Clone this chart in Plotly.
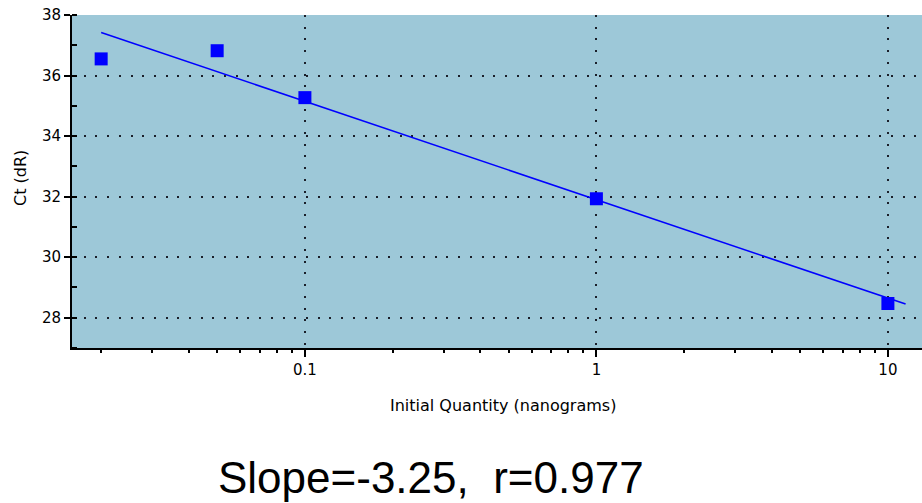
import numpy as np
import plotly.graph_objects as go

# Data
quantity_ng = [0.02, 0.05, 0.1, 1, 10]
ct_values = [36.55, 36.82, 35.27, 31.93, 28.47]

# Standard curve (fit shown in the chart)
fit_slope = -3.25
fit_intercept = 31.90
fit_x_range = [0.02, 11.5]
slope_label = "Slope=-3.25,  r=0.977"

x_ticks = [0.1, 1, 10]
x_tick_labels = ["0.1", "1", "10"]
x_minor = [0.02, 0.03, 0.04, 0.05, 0.06, 0.07, 0.08, 0.09,
           0.2, 0.3, 0.4, 0.5, 0.6, 0.7, 0.8, 0.9,
           2, 3, 4, 5, 6, 7, 8, 9]
y_ticks = [28, 30, 32, 34, 36, 38]

fit_x = np.array(fit_x_range)
fit_y = fit_intercept + fit_slope * np.log10(fit_x)

FONT = "DejaVu Sans, sans-serif"
BIG_FONT = "Liberation Sans, Arial, sans-serif"
BLUE = "#0000FF"

fig = go.Figure()
fig.add_trace(go.Scatter(x=fit_x, y=fit_y, mode="lines",
                         line=dict(color=BLUE, width=1.6),
                         showlegend=False, hoverinfo="skip"))
fig.add_trace(go.Scatter(x=quantity_ng, y=ct_values, mode="markers",
                         marker=dict(symbol="square", size=13, color=BLUE,
                                     line=dict(width=0)),
                         showlegend=False))

fig.update_layout(
    width=922, height=503,
    margin=dict(l=72, r=0, t=15, b=155, autoexpand=False),
    paper_bgcolor="white",
    plot_bgcolor="#9DC8D8",
    font=dict(family=FONT, size=15, color="black"),
    xaxis=dict(
        type="log", range=[-1.799, 1.117], automargin=False,
        tickvals=x_ticks, ticktext=x_tick_labels,
        ticks="outside", ticklen=7, tickwidth=2, tickcolor="black",
        showline=True, linecolor="black", linewidth=2,
        showgrid=True, gridcolor="#1a1f2a", gridwidth=2, griddash="2px,9.7px",
        zeroline=False,
        tickfont=dict(size=15),
        minor=dict(tickvals=x_minor, ticks="outside", ticklen=3,
                   tickwidth=2, tickcolor="black", showgrid=False),
    ),
    yaxis=dict(
        range=[27, 38], automargin=False,
        tickvals=y_ticks,
        ticks="outside", ticklen=6, tickwidth=2, tickcolor="black",
        showline=True, linecolor="black", linewidth=2,
        showgrid=True, gridcolor="#1a1f2a", gridwidth=2, griddash="2px,9.7px",
        zeroline=False,
        tickfont=dict(size=15),
        minor=dict(dtick=1, ticks="inside", ticklen=5, tickwidth=2,
                   tickcolor="black", showgrid=False),
    ),
    annotations=[
        dict(text="Initial Quantity (nanograms)", xref="paper", yref="paper",
             x=(503 - 72) / 850, y=(348 - 405) / 333, xanchor="center",
             yanchor="middle", showarrow=False, font=dict(size=16)),
        dict(text="Ct (dR)", xref="paper", yref="paper",
             x=(20 - 72) / 850, y=(348 - 178) / 333, xanchor="center",
             yanchor="middle", textangle=-90, showarrow=False,
             font=dict(size=16)),
        dict(text=slope_label, xref="paper", yref="paper",
             x=(431 - 72) / 850, y=(348 - 477) / 333, xanchor="center",
             yanchor="middle", showarrow=False,
             font=dict(size=44, family=BIG_FONT)),
    ],
)

fig.write_html(
    "out.html",
    config={"displayModeBar": False},
    post_script="document.body.style.margin='0';document.body.style.overflow='hidden';",
)
